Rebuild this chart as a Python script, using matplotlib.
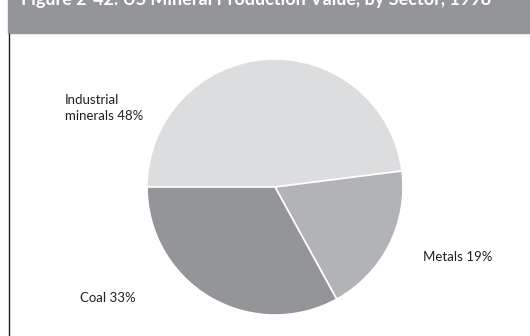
import matplotlib.pyplot as plt
from matplotlib.lines import Line2D
from matplotlib.patches import Rectangle

plt.rcParams['font.family'] = ['Lato', 'DejaVu Sans']

title = "Figure 2-42. US Mineral Production Value, by Sector, 1998"
sectors = ["Industrial\nminerals", "Metals", "Coal"]
shares = [48, 19, 33]
colors = ["#dcdddf", "#b1b3b6", "#939598"]

W, H = 530, 336
fig = plt.figure(figsize=(W / 100, H / 100), dpi=100)
fig.patch.set_facecolor("white")


def fx(px):
    return px / W


def fy(py):
    return 1 - py / H


# title band and left frame line
fig.patches.append(Rectangle((fx(8), fy(33)), 1 - fx(8), 33 / H,
                             transform=fig.transFigure, color="#939598", zorder=0))
fig.lines.append(Line2D([fx(8.5), fx(8.5)], [fy(34), 0], transform=fig.transFigure,
                        color="#231f20", lw=1.0))
# the title sits mostly above the top edge, as in the source
fig.text(fx(256), fy(4.5), title, color="white", fontsize=13, fontweight="bold",
         ha="center", va="baseline")

# pie: center (275, 187), radius 128 px
cx, cy, r = 275, 187, 128
ax = fig.add_axes([fx(cx - r), fy(cy + r), 2 * r / W, 2 * r / H])
ax.pie(shares, colors=colors, startangle=180, counterclock=False,
       wedgeprops=dict(edgecolor="white", linewidth=1.2))
ax.set_xlim(-1, 1)
ax.set_ylim(-1, 1)
ax.set_aspect("equal")
ax.axis("off")

# labels
label_pos = [(65, 108), (423, 257), (80, 298)]
for name, val, (x, y) in zip(sectors, shares, label_pos):
    fig.text(fx(x), fy(y), f"{name} {val}%", fontsize=9.5, color="#231f20",
             ha="left", va="center", linespacing=1.45)

fig.savefig("out.png", dpi=100)
